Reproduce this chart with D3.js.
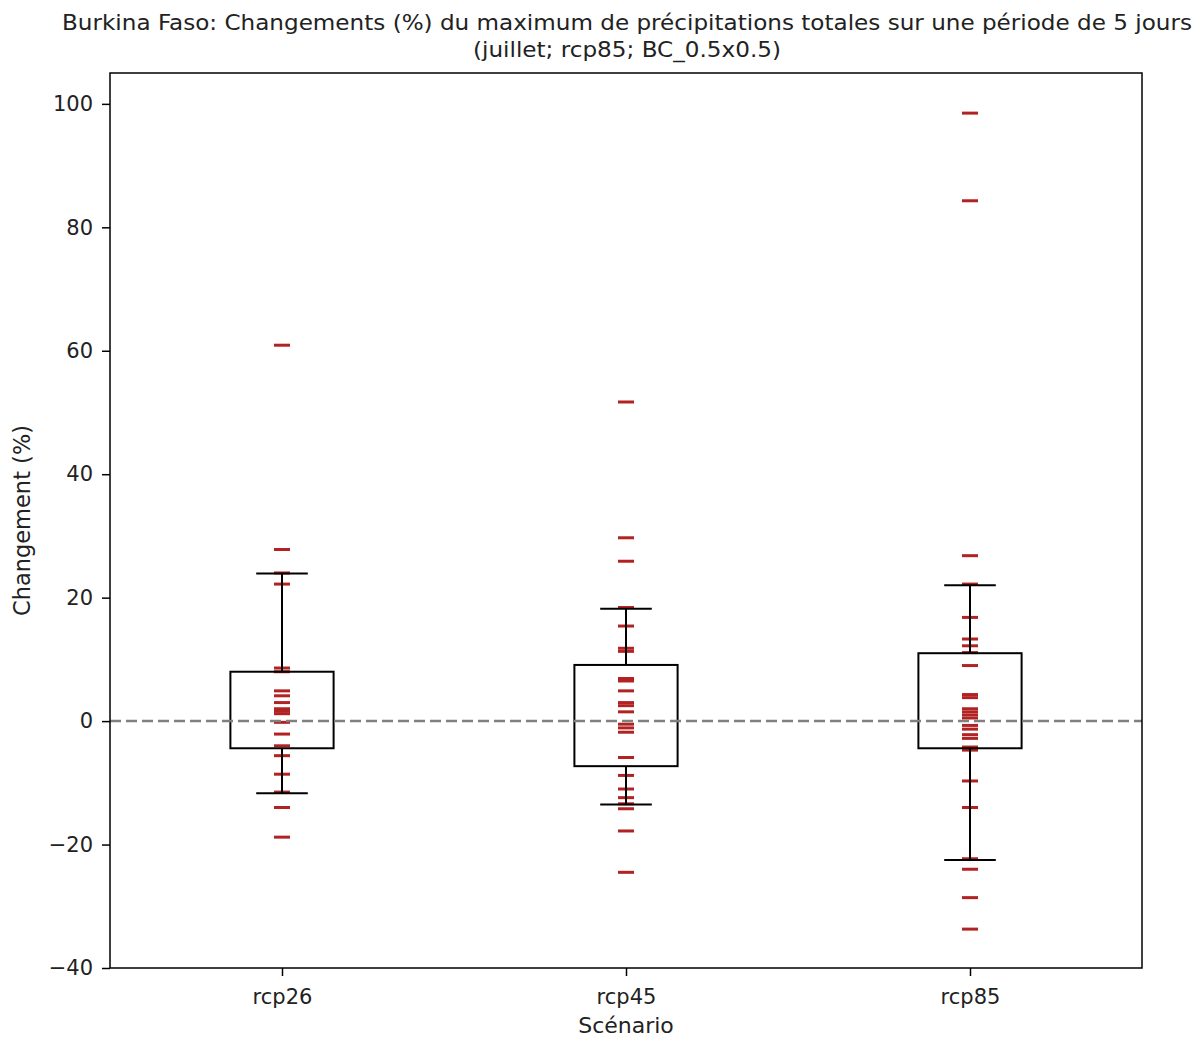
<!DOCTYPE html>
<html>
<head>
<meta charset="utf-8">
<script src="https://cdn.jsdelivr.net/npm/d3@7"></script>
<style>
  html, body { margin: 0; padding: 0; background: #fff; }
  svg { display: block; font-family: "DejaVu Sans", sans-serif; }
</style>
</head>
<body>
<svg id="chart" width="1196" height="1039"></svg>
<script>
// ---------------- DATA ----------------
const titleLines = [
  "Burkina Faso: Changements (%) du maximum de précipitations totales sur une période de 5 jours",
  "(juillet; rcp85; BC_0.5x0.5)"
];
const xLabel = "Scénario";
const yLabel = "Changement (%)";
const categories = ["rcp26", "rcp45", "rcp85"];

// individual model values (%)
const valuesRcp26 = [60.9, 27.8, 24.0, 22.2, 8.6, 8.0, 4.9, 4.1, 3.0, 2.0, 1.6, 1.2, -0.2, -2.1, -4.0, -5.6, -8.6, -11.5, -14.0, -18.8];
const valuesRcp45 = [51.7, 29.7, 25.9, 18.4, 15.4, 11.8, 11.3, 6.9, 6.5, 4.9, 3.0, 2.5, 1.5, -0.5, -1.1, -1.8, -5.9, -8.8, -11.0, -12.4, -13.4, -14.2, -17.8, -24.5];
const valuesRcp85 = [98.5, 84.3, 26.8, 22.2, 16.8, 13.3, 12.2, 11.1, 9.0, 4.3, 3.8, 2.0, 1.5, 1.0, 0.5, -0.7, -1.3, -2.2, -2.8, -4.2, -4.7, -9.7, -14.0, -22.3, -24.0, -28.6, -33.7];
const seriesValues = [valuesRcp26, valuesRcp45, valuesRcp85];

// box statistics
const boxQ1 = [-4.4, -7.3, -4.4];
const boxQ3 = [8.0, 9.1, 11.0];
const whiskerLow = [-11.7, -13.5, -22.5];
const whiskerHigh = [23.9, 18.2, 22.0];

const yTicks = [-40, -20, 0, 20, 40, 60, 80, 100];
const yDomain = [-40, 105];
const referenceValue = 0;

// ---------------- LAYOUT ----------------
const svg = d3.select("#chart");
const plotLeft = 110, plotRight = 1142, plotTop = 73, plotBottom = 968;

const x = d3.scalePoint().domain(categories).range([plotLeft, plotRight]).padding(0.5);
const step = x.step();
const y = d3.scaleLinear().domain(yDomain).range([plotBottom, plotTop]);

const boxW = 0.3 * step;
const capW = 0.15 * step;
const markW = 16;
const red = "#b22222";

// markers
const g = svg.append("g");
categories.forEach((c, i) => {
  g.append("g").selectAll("line")
    .data(seriesValues[i])
    .join("line")
    .attr("x1", x(c) - markW / 2)
    .attr("x2", x(c) + markW / 2)
    .attr("y1", d => y(d))
    .attr("y2", d => y(d))
    .attr("stroke", red)
    .attr("stroke-width", 3);
});

// boxes
const boxes = svg.append("g").selectAll("g")
  .data(categories)
  .join("g");
boxes.append("rect")
  .attr("x", c => x(c) - boxW / 2)
  .attr("width", boxW)
  .attr("y", (c, i) => y(boxQ3[i]))
  .attr("height", (c, i) => y(boxQ1[i]) - y(boxQ3[i]))
  .attr("fill", "none")
  .attr("stroke", "#000")
  .attr("stroke-width", 2);
// whiskers
boxes.append("line")
  .attr("x1", c => x(c)).attr("x2", c => x(c))
  .attr("y1", (c, i) => y(boxQ3[i])).attr("y2", (c, i) => y(whiskerHigh[i]))
  .attr("stroke", "#000").attr("stroke-width", 2);
boxes.append("line")
  .attr("x1", c => x(c)).attr("x2", c => x(c))
  .attr("y1", (c, i) => y(boxQ1[i])).attr("y2", (c, i) => y(whiskerLow[i]))
  .attr("stroke", "#000").attr("stroke-width", 2);
// caps
boxes.append("line")
  .attr("x1", c => x(c) - capW / 2).attr("x2", c => x(c) + capW / 2)
  .attr("y1", (c, i) => y(whiskerHigh[i])).attr("y2", (c, i) => y(whiskerHigh[i]))
  .attr("stroke", "#000").attr("stroke-width", 2);
boxes.append("line")
  .attr("x1", c => x(c) - capW / 2).attr("x2", c => x(c) + capW / 2)
  .attr("y1", (c, i) => y(whiskerLow[i])).attr("y2", (c, i) => y(whiskerLow[i]))
  .attr("stroke", "#000").attr("stroke-width", 2);

// zero reference line
svg.append("line")
  .attr("x1", plotLeft).attr("x2", plotRight)
  .attr("y1", y(referenceValue)).attr("y2", y(referenceValue))
  .attr("stroke", "#808080")
  .attr("stroke-width", 2.5)
  .attr("stroke-dasharray", "11,5");

// frame
svg.append("rect")
  .attr("x", plotLeft).attr("y", plotTop)
  .attr("width", plotRight - plotLeft).attr("height", plotBottom - plotTop)
  .attr("fill", "none").attr("stroke", "#000").attr("stroke-width", 1.5);

// axes
const yAxis = svg.append("g")
  .attr("transform", `translate(${plotLeft},0)`)
  .call(d3.axisLeft(y).tickValues(yTicks).tickSize(8).tickPadding(9)
    .tickFormat(d => d < 0 ? "\u2212" + Math.abs(d) : d));
const xAxis = svg.append("g")
  .attr("transform", `translate(0,${plotBottom})`)
  .call(d3.axisBottom(x).tickSize(8).tickPadding(13));
[yAxis, xAxis].forEach(a => {
  a.select(".domain").remove();
  a.selectAll(".tick line").attr("stroke", "#000").attr("stroke-width", 1.5);
  a.selectAll(".tick text").attr("fill", "#222").style("font-size", "21px")
    .style("font-family", "DejaVu Sans, sans-serif");
});

// axis labels
svg.append("text")
  .attr("x", (plotLeft + plotRight) / 2).attr("y", 1033)
  .attr("text-anchor", "middle")
  .style("font-size", "22px").attr("fill", "#222")
  .text(xLabel);
svg.append("text")
  .attr("transform", `translate(30,${(plotTop + plotBottom) / 2}) rotate(-90)`)
  .attr("text-anchor", "middle")
  .style("font-size", "22.5px").attr("fill", "#222")
  .text(yLabel);

// title
const titleWidths = [1130, 308];
const titleY = [30, 57];
titleLines.forEach((t, i) => {
  svg.append("text")
    .attr("x", 627).attr("y", titleY[i])
    .attr("text-anchor", "middle")
    .style("font-size", "22px").attr("fill", "#222")
    .attr("textLength", titleWidths[i])
    .attr("lengthAdjust", "spacingAndGlyphs")
    .text(t);
});
</script>
</body>
</html>
